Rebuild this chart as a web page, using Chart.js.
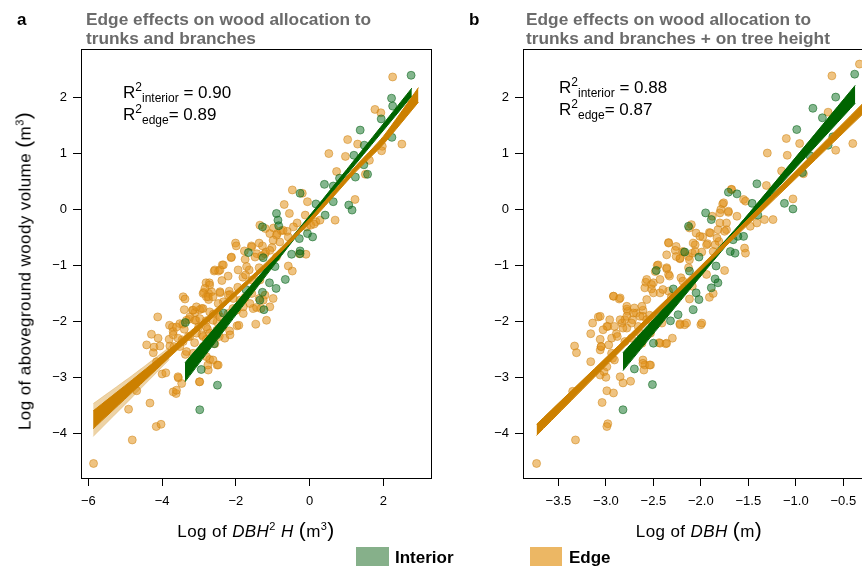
<!DOCTYPE html>
<html lang="en">
<head>
<meta charset="UTF-8">
<title>Edge effects on wood allocation</title>
<script src="https://cdn.jsdelivr.net/npm/chart.js"></script>
<style>
html, body { margin: 0; padding: 0; background: #fff; overflow: hidden; }
body { width: 862px; height: 566px; position: relative; font-family: 'Liberation Sans', Arial, sans-serif; color: #000; }
canvas { position: absolute; top: 0; }
#chartA { left: 0; }
#chartB { left: 440px; }
.txt { position: absolute; line-height: 1; white-space: nowrap; }
.letter { font-size: 17px; font-weight: bold; }
.ptitle { font-size: 17.3px; font-weight: bold; color: #6b6b6b; line-height: 19px; }
.r2 { font-size: 17px; }
.r2 .sup { font-size: 12px; position: relative; top: -7px; }
.r2 .sub { font-size: 12px; position: relative; top: 4px; }
.xtitle { font-size: 17px; letter-spacing: 0.4px; text-align: center; }
.ytitle { font-size: 17px; letter-spacing: 0.4px; transform: translate(-50%, -50%) rotate(-90deg); }
.paren { font-size: 21px; }
.sup3 { font-size: 11px; position: relative; top: -7px; }
.swatch { position: absolute; }
.leg { font-size: 17px; font-weight: bold; }
</style>
</head>
<body>

<canvas id="chartA" width="440" height="566"></canvas>
<canvas id="chartB" width="460" height="566"></canvas>

<div class="txt letter" style="left:17px; top:10.6px;">a</div>
<div class="txt ptitle" style="left:86px; top:9.6px;">Edge effects on wood allocation to<br>trunks and branches</div>
<div class="txt letter" style="left:469px; top:10.6px;">b</div>
<div class="txt ptitle" style="left:526px; top:9.6px;">Edge effects on wood allocation to<br>trunks and branches + on tree height</div>

<div class="txt r2" style="left:123px; top:83.6px;">R<span class="sup">2</span><span class="sub">interior</span> = 0.90</div>
<div class="txt r2" style="left:123px; top:105.6px;">R<span class="sup">2</span><span class="sub">edge</span>= 0.89</div>
<div class="txt r2" style="left:559px; top:79px;">R<span class="sup">2</span><span class="sub">interior</span> = 0.88</div>
<div class="txt r2" style="left:559px; top:101px;">R<span class="sup">2</span><span class="sub">edge</span>= 0.87</div>

<div class="txt ytitle" style="left:23px; top:271px;">Log of aboveground woody volume <span class="paren">(</span>m<span class="sup3">3</span><span class="paren">)</span></div>
<div class="txt xtitle" style="left:81px; width:350px; top:519px;">Log of <i>DBH</i><span class="sup3">2</span> <i>H</i> <span class="paren">(</span>m<span class="sup3">3</span><span class="paren">)</span></div>
<div class="txt xtitle" style="left:523px; width:352px; top:519px;">Log of <i>DBH</i> <span class="paren">(</span>m<span class="paren">)</span></div>

<div class="swatch" style="left:356px; top:547px; width:33px; height:19px; background:#86b08a;"></div>
<div class="txt leg" style="left:395px; top:548.6px;">Interior</div>
<div class="swatch" style="left:530px; top:547px; width:32px; height:19px; background:#ecb764;"></div>
<div class="txt leg" style="left:569px; top:548.6px;">Edge</div>

<script>
// axis ranges and ticks
const yRange = [-4.80, 2.87];
const yTicks = [-4, -3, -2, -1, 0, 1, 2];
const xRangeA = [-6.20, 3.29];
const xTicksA = [-6, -4, -2, 0, 2];
const xRangeB = [-3.873, -0.145];
const xTicksB = [-3.5, -3.0, -2.5, -2.0, -1.5, -1.0, -0.5];

// panel a: log(DBH^2 H) vs log volume
const edgeA = [[2.25,2.37],[1.77,1.79],[1.93,1.73],[1.03,1.25],[1.30,1.17],[2.50,1.17],[1.97,1.13],[1.95,1.05],[0.52,1.00],[0.97,0.95],[1.62,0.88],[0.73,0.68],[1.51,0.63],[-0.47,0.35],[-0.20,0.29],[-0.06,0.14],[-0.69,0.09],[1.23,0.18],[-0.55,-0.07],[-0.12,-0.10],[0.69,-0.19],[0.17,-0.22],[-0.34,-0.24],[-1.35,-0.28],[-1.20,-0.34],[-0.98,-0.33],[-0.88,-0.43],[-0.77,-0.38],[-0.61,-0.39],[-0.44,-0.31],[-0.08,-0.31],[0.03,-0.28],[0.12,-0.26],[0.28,-0.19],[-2.01,-0.60],[-1.99,-0.65],[-1.77,-0.74],[-1.58,-0.65],[-1.37,-0.60],[-1.28,-0.65],[-1.02,-0.68],[-1.43,-0.79],[-1.19,-0.76],[-2.13,-0.86],[-1.75,-0.89],[-1.48,-0.85],[-1.30,-0.83],[-0.10,-0.80],[-0.28,-0.79],[-2.37,-0.99],[-2.59,-1.10],[-2.47,-1.10],[-1.94,-1.08],[-1.64,-1.08],[-1.37,-1.04],[-0.58,-1.01],[-0.47,-1.10],[-2.21,-1.19],[-1.81,-1.21],[-1.74,-1.17],[-1.56,-1.26],[-1.35,-1.26],[-2.81,-1.31],[-2.72,-1.31],[-2.38,-1.27],[-2.87,-1.48],[-2.74,-1.50],[-2.80,-1.56],[-2.74,-1.61],[-2.43,-1.49],[-2.18,-1.46],[-2.16,-1.52],[-1.95,-1.39],[-1.89,-1.62],[-1.75,-1.57],[-1.57,-1.50],[-1.37,-1.59],[-1.21,-1.53],[-0.99,-1.59],[-3.43,-1.56],[-3.38,-1.60],[-3.40,-1.79],[-3.18,-1.80],[-3.11,-1.84],[-2.98,-1.79],[-2.89,-1.77],[-2.71,-1.83],[-2.61,-1.87],[-2.48,-1.86],[-2.08,-1.77],[-1.80,-1.86],[-1.53,-1.77],[-1.44,-1.75],[-1.32,-1.77],[-4.12,-1.92],[-3.80,-2.07],[-3.72,-2.10],[-3.70,-2.18],[-3.44,-2.05],[-3.40,-2.14],[-3.27,-1.96],[-3.08,-1.98],[-3.01,-2.10],[-2.81,-1.99],[-2.77,-2.14],[-2.51,-2.01],[-2.37,-2.10],[-2.17,-2.17],[-1.97,-2.08],[-1.92,-2.07],[-1.46,-2.05],[-4.29,-2.23],[-4.11,-2.30],[-4.42,-2.42],[-4.22,-2.46],[-4.06,-2.44],[-3.79,-2.44],[-3.68,-2.45],[-3.81,-2.32],[-3.46,-2.33],[-3.29,-2.27],[-3.12,-2.38],[-2.92,-2.24],[-2.80,-2.32],[-2.57,-2.40],[-2.45,-2.27],[-4.24,-2.56],[-4.15,-2.72],[-3.37,-2.59],[-3.16,-2.57],[-2.98,-2.56],[-2.71,-2.68],[-2.75,-2.87],[-2.51,-2.78],[-2.76,-2.78],[-4.00,-2.94],[-3.90,-2.92],[-3.56,-3.01],[-3.47,-3.11],[-2.99,-3.08],[-3.70,-3.26],[-3.62,-3.29],[-4.69,-3.24],[-4.91,-3.57],[-4.33,-3.46],[-4.16,-3.88],[-4.03,-3.84],[-4.81,-4.12],[-5.86,-4.54],
    [-1.08,-0.43],[-0.90,-0.46],[-0.72,-0.37],[-0.58,-0.49],[-0.81,-0.58],[-0.99,-0.55],[-1.57,-0.67],[-1.21,-0.79],[-1.08,-0.73],[-0.90,-0.85],[-2.12,-0.85],[-2.34,-0.99],[-2.57,-1.08],[-2.43,-1.08],[-1.71,-1.02],[-2.71,-1.35],[-2.84,-1.41],[-2.66,-1.47],[-2.89,-1.50],[-2.75,-1.56],[-2.43,-1.47],[-2.21,-1.53],[-2.07,-1.59],[-2.34,-1.65],[-2.48,-1.68],[-2.62,-1.56],[-3.16,-1.80],[-3.07,-1.74],[-2.93,-1.77],[-3.25,-1.92],[-3.11,-1.98],[-2.98,-1.95],[-3.34,-1.98],[-3.52,-2.04],[-3.61,-2.10],[-2.80,-2.10],[-2.62,-1.98],[-2.43,-1.92],[-2.21,-1.86],[-1.98,-1.80],[-1.80,-1.74],[-1.62,-1.68],[-1.17,-1.98],[-1.08,-1.74],[-1.26,-1.62],[-3.70,-2.24],[-3.57,-2.30],[-3.43,-2.36],[-3.25,-2.27],[-3.07,-2.21],[-2.89,-2.27],[-2.71,-2.21],[-2.52,-2.16],[-2.30,-2.30],[-2.16,-2.24],[-3.52,-2.45],[-3.34,-2.54],[-2.89,-2.45],[-2.80,-2.63],[-2.62,-2.69],[-2.48,-2.78],[-2.98,-3.08],[-3.57,-2.99],[-3.61,-3.23]];
const interiorA = [[2.75,2.40],[2.22,1.99],[2.25,1.85],[1.94,1.62],[1.37,1.42],[1.48,1.15],[2.23,1.29],[1.20,0.97],[1.47,0.80],[1.57,0.63],[1.24,0.58],[0.40,0.45],[0.64,0.42],[-0.26,0.29],[0.81,0.56],[0.17,0.10],[0.64,0.14],[1.06,0.08],[1.15,-0.01],[0.42,-0.10],[-0.90,-0.07],[-0.86,-0.19],[-0.84,-0.29],[-1.28,-0.31],[0.08,-0.49],[-0.28,-0.52],[-0.06,-0.43],[-0.26,-0.74],[-0.49,-0.80],[-0.26,-0.79],[-1.66,-0.77],[-1.26,-0.86],[-0.94,-1.02],[-0.66,-1.25],[-1.09,-1.31],[-0.91,-1.41],[-1.28,-1.48],[-1.35,-1.62],[-1.24,-1.79],[-1.73,-1.43],[-2.34,-1.85],[-3.37,-2.02],[-2.52,-2.24],[-2.59,-2.40],[-2.94,-2.86],[-2.50,-3.14],[-2.98,-3.58]];

// panel a fitted bands (spread of posterior fits)
const bandEdgeA_x  = [-5.87, -4.8, -3.8, -2.5, -1.2, 0, 1.2, 2.0, 2.95];
const bandEdgeA_lo = [-3.92, -3.26, -2.64, -1.85, -1.04, -0.24, 0.64, 1.17, 1.92];
const bandEdgeA_hi = [-3.60, -3.04, -2.50, -1.75, -0.96, -0.16, 0.74, 1.31, 2.18];
// faint outer spread at the low end of the edge fits
const fanEdgeA_x  = [-5.87, -4.8, -3.8];
const fanEdgeA_lo = [-4.06, -3.35, -2.68];
const fanEdgeA_hi = [-3.47, -2.96, -2.46];
const bandIntA_x  = [-3.38, -0.3, 2.77];
const bandIntA_lo = [-3.08, -0.43, 2.03];
const bandIntA_hi = [-2.74, -0.35, 2.17];

// panel b: log(DBH) vs log volume
const edgeB = [[-0.62,2.39],[-0.33,2.60],[-0.66,1.74],[-0.40,1.18],[-0.58,1.06],[-1.10,1.27],[-1.09,0.97],[-0.96,1.18],[-1.30,1.01],[-1.15,0.69],[-0.92,0.64],[-1.03,0.19],[-1.68,0.36],[-1.55,0.18],[-1.31,0.43],[-1.77,0.10],[-1.71,-0.05],[-1.79,0.00],[-1.24,-0.18],[-1.33,-0.18],[-1.41,-0.24],[-1.48,-0.30],[-1.54,-0.69],[-1.53,-0.78],[-1.88,-0.12],[-1.80,-0.24],[-1.91,-0.41],[-1.73,-0.36],[-2.10,-0.27],[-2.12,-0.33],[-2.05,-0.42],[-1.98,-0.49],[-1.93,-0.61],[-1.81,-0.57],[-1.99,-0.76],[-1.87,-0.75],[-1.75,-1.09],[-2.34,-0.59],[-2.26,-0.66],[-2.27,-0.73],[-2.18,-0.76],[-2.09,-0.78],[-2.06,-0.63],[-2.22,-0.88],[-2.13,-0.84],[-2.46,-1.00],[-2.36,-1.06],[-2.34,-1.16],[-2.21,-1.22],[-2.13,-1.04],[-1.94,-1.16],[-2.58,-1.30],[-2.50,-1.31],[-2.52,-1.42],[-2.43,-1.49],[-2.34,-1.46],[-2.31,-1.56],[-2.19,-1.28],[-2.09,-1.37],[-2.12,-1.60],[-1.91,-1.57],[-1.87,-1.50],[-2.92,-1.55],[-2.86,-1.60],[-2.78,-1.78],[-2.77,-1.82],[-2.68,-1.85],[-2.61,-1.80],[-2.61,-1.91],[-2.54,-1.89],[-2.48,-1.97],[-2.41,-2.03],[-2.22,-2.04],[-2.17,-2.06],[-2.00,-2.06],[-3.08,-1.92],[-3.14,-2.03],[-2.98,-2.09],[-2.89,-2.22],[-2.83,-2.03],[-2.80,-1.97],[-2.78,-2.12],[-2.72,-1.97],[-3.16,-2.22],[-3.06,-2.32],[-3.05,-2.45],[-2.97,-2.42],[-2.94,-2.30],[-2.88,-2.27],[-2.80,-2.36],[-2.73,-2.30],[-2.64,-2.21],[-2.53,-2.21],[-2.44,-2.38],[-2.37,-2.40],[-2.30,-2.30],[-3.33,-2.44],[-3.31,-2.56],[-3.16,-2.72],[-3.06,-2.51],[-2.93,-2.66],[-3.02,-2.90],[-3.06,-2.96],[-3.00,-3.00],[-2.85,-2.99],[-2.82,-3.10],[-2.74,-3.07],[-2.61,-2.69],[-2.59,-2.78],[-2.53,-2.78],[-2.60,-2.87],[-3.35,-3.25],[-2.99,-3.24],[-2.92,-3.28],[-3.04,-3.45],[-2.98,-3.83],[-2.99,-3.88],[-3.32,-4.12],[-3.73,-4.54],
    [-1.675,0.36],[-1.76,0.12],[-1.71,-0.03],[-1.80,-0.06],[-1.62,-0.12],[-1.53,0.15],[-1.73,-0.24],[-1.82,-0.36],[-1.90,-0.42],[-1.83,-0.51],[-2.01,-0.48],[-1.94,-0.63],[-1.85,-0.63],[-1.75,-0.39],[-2.08,-0.60],[-2.06,-0.75],[-2.19,-0.75],[-2.22,-0.87],[-2.34,-0.60],[-2.36,-0.81],[-2.26,-0.84],[-2.12,-0.90],[-2.45,-0.99],[-2.36,-1.04],[-2.48,-1.11],[-2.33,-1.19],[-2.57,-1.25],[-2.52,-1.34],[-2.59,-1.40],[-2.50,-1.49],[-2.43,-1.25],[-2.40,-1.43],[-2.92,-1.55],[-2.85,-1.58],[-2.78,-1.73],[-2.70,-1.76],[-2.62,-1.73],[-2.57,-1.61],[-2.71,-1.85],[-2.64,-1.91],[-2.78,-1.91],[-2.85,-1.97],[-2.96,-1.97],[-2.99,-2.09],[-2.91,-2.09],[-2.82,-2.12],[-2.73,-2.03],[-2.66,-2.09],[-2.57,-1.97],[-3.06,-1.91],[-3.03,-2.15],[-3.05,-2.45],[-2.94,-2.57],[-2.91,-2.69],[-2.99,-2.81],[-2.61,-2.75],[-2.54,-2.78],[-2.62,-2.39],[-2.43,-2.39],[-2.36,-2.39],[-2.22,-2.06],[-2.15,-2.03],[-1.99,-2.03]];
const interiorB = [[-0.38,2.42],[-0.58,2.01],[-0.82,1.81],[-0.72,1.64],[-0.63,1.56],[-0.99,1.43],[-0.66,1.15],[-0.61,1.30],[-0.85,0.96],[-0.93,0.66],[-1.41,0.46],[-1.71,0.31],[-1.62,0.28],[-1.46,0.11],[-1.12,0.11],[-1.03,0.01],[-1.40,-0.10],[-1.95,-0.06],[-1.89,-0.18],[-2.13,-0.30],[-1.55,-0.48],[-1.61,-0.48],[-1.66,-0.54],[-1.69,-0.75],[-1.64,-0.78],[-2.17,-0.76],[-2.02,-0.85],[-1.84,-1.01],[-1.85,-1.24],[-1.89,-1.40],[-1.82,-1.31],[-2.12,-1.10],[-2.05,-1.49],[-2.02,-1.61],[-2.08,-1.79],[-2.29,-1.42],[-2.24,-1.88],[-2.32,-1.99],[-2.47,-1.09],[-2.22,-1.49],[-2.50,-2.39],[-2.70,-2.85],[-2.51,-3.13],[-2.82,-3.58]];

// panel b fitted bands
const bandEdgeB_x  = [-3.73, -2.0, -0.14];
const bandEdgeB_lo = [-4.04, -1.09, 1.96];
const bandEdgeB_hi = [-3.84, -1.01, 2.16];
const bandIntB_x  = [-2.82, -1.6, -0.374];
const bandIntB_lo = [-2.88, -0.38, 1.90];
const bandIntB_hi = [-2.56, -0.28, 2.22];

const FONT = "'Liberation Sans', Arial, sans-serif";
const EDGE_PT = 'rgba(225,145,25,0.55)';
const EDGE_PT_BORDER = 'rgba(205,130,15,0.5)';
const INT_PT = 'rgba(10,110,30,0.5)';
const INT_PT_BORDER = 'rgba(10,100,25,0.55)';
const EDGE_BAND = '#cc8000';
const EDGE_FAN = 'rgba(204,128,0,0.35)';
const INT_BAND = '#006400';

const boxPlugin = {
    id: 'box',
    afterDraw(chart) {
        const a = chart.chartArea, ctx = chart.ctx;
        ctx.save();
        ctx.strokeStyle = '#000';
        ctx.lineWidth = 1;
        ctx.strokeRect(Math.round(a.left) + 0.5, Math.round(a.top) + 0.5,
            Math.round(a.right - a.left), Math.round(a.bottom - a.top));
        ctx.restore();
    }
};

function minusLabel(v, digits) {
    const s = digits ? Math.abs(v).toFixed(digits) : String(Math.abs(v));
    return v < 0 ? '\u2212' + s : s;
}

function pts(pairs, bg, border, order) {
    return {
        type: 'scatter',
        data: pairs.map(p => ({ x: p[0], y: p[1] })),
        backgroundColor: bg, borderColor: border, borderWidth: 1,
        pointRadius: 4, order
    };
}

function band(xs, lo, hi, color, order, edge) {
    return [
        { type: 'line', data: xs.map((x, i) => ({ x, y: lo[i] })), borderColor: edge || color, borderWidth: 1,
          pointRadius: 0, fill: false, tension: 0.2, order },
        { type: 'line', data: xs.map((x, i) => ({ x, y: hi[i] })), borderColor: edge || color, borderWidth: 1,
          pointRadius: 0, fill: '-1', backgroundColor: color, tension: 0.2, order }
    ];
}

function makePanel(id, cfg) {
    const tickFont = { family: FONT, size: 13 };
    new Chart(document.getElementById(id), {
        type: 'scatter',
        data: { datasets: cfg.datasets },
        options: {
            responsive: false,
            animation: false,
            devicePixelRatio: 1,
            events: [],
            layout: { padding: { left: 0, right: cfg.padRight, top: 49, bottom: 28 } },
            plugins: { legend: { display: false }, tooltip: { enabled: false } },
            scales: {
                x: {
                    type: 'linear', min: cfg.xRange[0], max: cfg.xRange[1],
                    border: { display: false },
                    grid: { drawOnChartArea: false, drawTicks: true, tickLength: 8, tickColor: '#000' },
                    ticks: { font: tickFont, color: '#000', padding: 8, maxRotation: 0,
                             callback: v => minusLabel(v, cfg.xDigits) },
                    afterBuildTicks: s => { s.ticks = cfg.xTicks.map(v => ({ value: v })); },
                    afterFit: s => { s.height = 60; }
                },
                y: {
                    type: 'linear', min: yRange[0], max: yRange[1],
                    border: { display: false },
                    grid: { drawOnChartArea: false, drawTicks: true, tickLength: 8, tickColor: '#000' },
                    ticks: { font: tickFont, color: '#000', padding: 6,
                             callback: v => minusLabel(v, 0) },
                    afterBuildTicks: s => { s.ticks = yTicks.map(v => ({ value: v })); },
                    afterFit: s => { s.width = cfg.yWidth; }
                }
            }
        },
        plugins: [boxPlugin]
    });
}

makePanel('chartA', {
    xRange: xRangeA, xTicks: xTicksA, xDigits: 0, yWidth: 81, padRight: 9,
    datasets: [
        pts(edgeA, EDGE_PT, EDGE_PT_BORDER, 5),
        pts(interiorA, INT_PT, INT_PT_BORDER, 4),
        ...band(bandIntA_x, bandIntA_lo, bandIntA_hi, INT_BAND, 3),
        ...band(fanEdgeA_x, fanEdgeA_lo, fanEdgeA_hi, EDGE_FAN, 2, 'rgba(204,128,0,0.2)'),
        ...band(bandEdgeA_x, bandEdgeA_lo, bandEdgeA_hi, EDGE_BAND, 1)
    ]
});

makePanel('chartB', {
    xRange: xRangeB, xTicks: xTicksB, xDigits: 1, yWidth: 83, padRight: 23,
    datasets: [
        pts(edgeB, EDGE_PT, EDGE_PT_BORDER, 4),
        pts(interiorB, INT_PT, INT_PT_BORDER, 3),
        ...band(bandIntB_x, bandIntB_lo, bandIntB_hi, INT_BAND, 2),
        ...band(bandEdgeB_x, bandEdgeB_lo, bandEdgeB_hi, EDGE_BAND, 1)
    ]
});
</script>
</body>
</html>
